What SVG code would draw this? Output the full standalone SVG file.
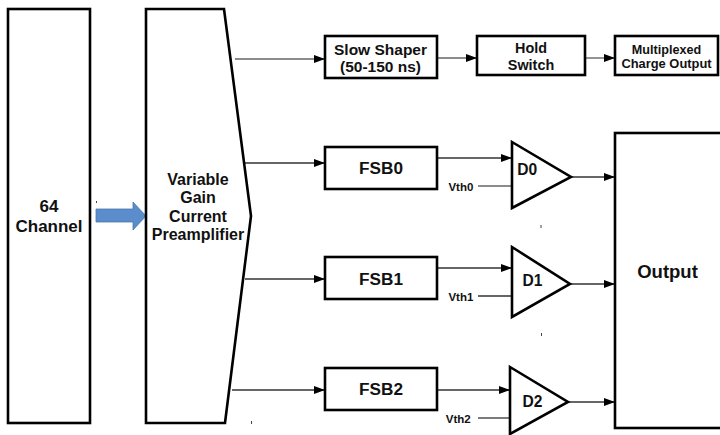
<svg xmlns="http://www.w3.org/2000/svg" width="720" height="435" viewBox="0 0 720 435">
<style>
.box{fill:#fff;stroke:#000;stroke-width:2.6;stroke-linejoin:miter}
.ln{fill:none;stroke:#333;stroke-width:1.3}
.lg{fill:none;stroke:#666;stroke-width:1.4}
.t{font-family:"Liberation Sans",Arial,sans-serif;font-weight:bold;fill:#111;text-anchor:middle}
.tr{font-family:"Liberation Sans",Arial,sans-serif;font-weight:bold;fill:#111;text-anchor:end}
.tick{stroke:#444;stroke-width:1}
</style>
<defs>
<marker id="ah" markerUnits="userSpaceOnUse" markerWidth="12" markerHeight="8" refX="11" refY="4" orient="auto">
<path d="M0,0 L11,4 L0,8 Z" fill="#000"/>
</marker>
</defs>
<rect width="720" height="435" fill="#fff"/>
<g id="connectors">
<path d="M96,209 H133 V202 L146,216 L133,230 V222 H96 Z" fill="#5b8ccb" stroke="#4a78b0" stroke-width="0.8"/>
<line class="lg" x1="235" y1="59" x2="325" y2="59" marker-end="url(#ah)"/>
<line class="lg" x1="437" y1="58" x2="477" y2="58" marker-end="url(#ah)"/>
<line class="lg" x1="585" y1="58" x2="615" y2="58" marker-end="url(#ah)"/>
<line class="ln" x1="235" y1="163" x2="325" y2="163" marker-end="url(#ah)"/>
<line class="ln" x1="245" y1="279" x2="325" y2="279" marker-end="url(#ah)"/>
<line class="ln" x1="232" y1="390" x2="325" y2="390" marker-end="url(#ah)"/>
<line class="ln" x1="437" y1="158" x2="512" y2="158" marker-end="url(#ah)"/>
<line class="ln" x1="437" y1="268" x2="512" y2="268" marker-end="url(#ah)"/>
<line class="ln" x1="437" y1="390" x2="510" y2="390" marker-end="url(#ah)"/>
<line class="lg" x1="478" y1="186" x2="512" y2="186"/>
<line class="ln" x1="478" y1="296" x2="512" y2="296"/>
<line class="ln" x1="478" y1="418" x2="510" y2="418"/>
<line class="ln" x1="571" y1="177" x2="615" y2="177" marker-end="url(#ah)"/>
<line class="ln" x1="570" y1="284" x2="615" y2="284" marker-end="url(#ah)"/>
<line class="ln" x1="568" y1="402" x2="615" y2="402" marker-end="url(#ah)"/>
<line class="tick" x1="541" y1="225" x2="541" y2="228"/>
<line class="tick" x1="541.5" y1="333" x2="541.5" y2="336"/>
<line class="tick" x1="251.5" y1="421" x2="251.5" y2="424"/>
<line class="tick" x1="96.5" y1="201" x2="96.5" y2="203" stroke="#8aa"/>
</g>
<g id="channel">
<rect class="box" x="8" y="9" width="82" height="414"/>
<text class="t" x="49" y="212" font-size="17">64</text>
<text class="t" x="49" y="232" font-size="17">Channel</text>
</g>
<g id="preamp">
<polygon class="box" points="146,9 224,9 251,216 225,423 146,423"/>
<text class="t" x="198" y="185" font-size="16">Variable</text>
<text class="t" x="198" y="203.3" font-size="16">Gain</text>
<text class="t" x="198" y="221.6" font-size="16">Current</text>
<text class="t" x="198" y="240" font-size="16">Preamplifier</text>
</g>
<g id="slowshaper">
<rect class="box" x="325" y="36" width="112" height="42"/>
<text class="t" x="380.5" y="55" font-size="15.5">Slow Shaper</text>
<text class="t" x="380.5" y="71.7" font-size="15.5">(50-150 ns)</text>
</g>
<g id="hold">
<rect class="box" x="477" y="36" width="108" height="39"/>
<text class="t" x="531" y="53.3" font-size="14.4">Hold</text>
<text class="t" x="531" y="70" font-size="14.4">Switch</text>
</g>
<g id="mux">
<rect class="box" x="615" y="36" width="103" height="39"/>
<text class="t" x="666.5" y="54.3" font-size="12.6">Multiplexed</text>
<text class="t" x="666.5" y="68.3" font-size="12.9">Charge Output</text>
</g>
<g id="fsb0">
<rect class="box" x="325" y="147" width="112" height="42"/>
<text class="t" x="381" y="174" font-size="17.2">FSB0</text>
</g>
<g id="fsb1">
<rect class="box" x="325" y="257" width="112" height="42"/>
<text class="t" x="381" y="285" font-size="17.2">FSB1</text>
</g>
<g id="fsb2">
<rect class="box" x="325" y="368" width="112" height="42"/>
<text class="t" x="381" y="395" font-size="17.2">FSB2</text>
</g>
<g id="d0">
<polygon class="box" points="512,142 571,177 512,208"/>
<text class="t" x="527.3" y="175" font-size="15.6">D0</text>
<text class="tr" x="473.3" y="190.7" font-size="11.5">Vth0</text>
</g>
<g id="d1">
<polygon class="box" points="512,247 570,284 512,317"/>
<text class="t" x="532.5" y="286" font-size="15.6">D1</text>
<text class="tr" x="473.3" y="300.7" font-size="11.5">Vth1</text>
</g>
<g id="d2">
<polygon class="box" points="510,367 568,402 510,434"/>
<text class="t" x="532.5" y="407" font-size="15.6">D2</text>
<text class="tr" x="470.7" y="422.7" font-size="11.5">Vth2</text>
</g>
<g id="output">
<rect class="box" x="615" y="133" width="110" height="295"/>
<text class="t" x="667.5" y="278" font-size="18.5">Output</text>
</g>
</svg>
